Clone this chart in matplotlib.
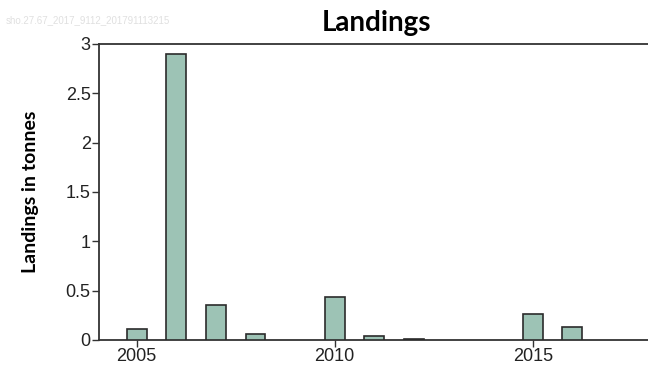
import matplotlib
matplotlib.use("Agg")
import matplotlib.pyplot as plt

years = [2005, 2006, 2007, 2008, 2009, 2010, 2011, 2012, 2013, 2014, 2015, 2016]
landings = [0.11, 2.9, 0.35, 0.065, 0.0, 0.44, 0.045, 0.015, 0.0, 0.0, 0.26, 0.135]
xticks = [2005, 2010, 2015]
yticks = [0, 0.5, 1, 1.5, 2, 2.5, 3]
ytick_labels = ["0", "0.5", "1", "1.5", "2", "2.5", "3"]

fig = plt.figure(figsize=(6.48, 3.65), dpi=100)
ax = fig.add_axes([99/648, 1 - 340/365, 1 - 99/648, (340 - 44)/365])

lw = [0 if v == 0 else 1.2 for v in landings]
ax.bar(years, landings, width=0.5, color="#9dc3b5", edgecolor="#2b2b2b", linewidth=lw, zorder=3)

ax.set_xlim(2004.05, 2017.91)
ax.set_ylim(0, 3)
ax.set_xticks(xticks)
ax.set_xticklabels([str(t) for t in xticks])
ax.set_yticks(yticks)
ax.set_yticklabels(ytick_labels)

tick_font = ["Liberation Sans", "DejaVu Sans"]
for lab in ax.get_xticklabels() + ax.get_yticklabels():
    lab.set_family(tick_font)
    lab.set_fontsize(13)
    lab.set_color("#222222")

ax.tick_params(axis="both", length=5, width=1, color="#333333", pad=1)
for side in ["left", "top", "bottom"]:
    ax.spines[side].set_color("#333333")
    ax.spines[side].set_linewidth(1.3)
ax.spines["right"].set_visible(False)

ax.set_ylabel("Landings in tonnes", fontsize=14, fontweight="bold", family=["Lato", "DejaVu Sans"], labelpad=19)
fig.text(376/648, 1 - 23/365, "Landings", ha="center", va="center", fontsize=20,
         fontweight="bold", family=["Lato", "DejaVu Sans"], color="black")
fig.text(6/648, 1 - 20/365, "sho.27.67_2017_9112_201791113215", ha="left", va="center",
         fontsize=7, color="#e0e0e0", family=["Liberation Sans", "DejaVu Sans"])

fig.savefig("out.png", dpi=100)
